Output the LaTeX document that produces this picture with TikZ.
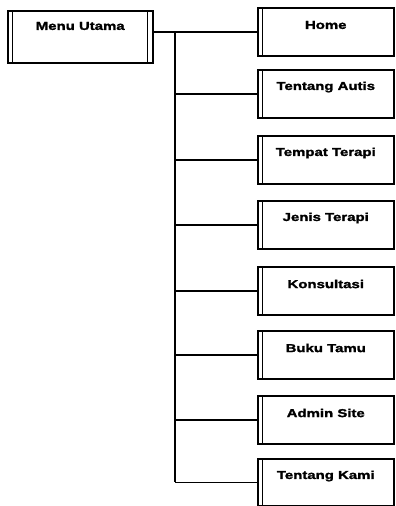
\documentclass[tikz,border=0pt]{standalone}
\usepackage{fontspec}
\setmainfont{Liberation Sans}[FakeStretch=1.3, BoldFeatures={FakeBold=1.8}]
\begin{document}
\begin{tikzpicture}[x=1pt,y=-1pt,
  box/.style={draw, line width=1.5pt, rectangle, minimum width=136pt, minimum height=48pt, inner sep=0pt, anchor=north west,
    path picture={\draw[line width=0.7pt] ([xshift=4.5pt]path picture bounding box.north west) -- ([xshift=4.5pt]path picture bounding box.south west);
      \draw[line width=2pt] (path picture bounding box.south west) -- (path picture bounding box.south east);}},
  mbox/.style={box, minimum width=145pt, minimum height=52pt,
    path picture={\draw[line width=0.7pt] ([xshift=5pt]path picture bounding box.north west) -- ([xshift=5pt]path picture bounding box.south west);
      \draw[line width=0.7pt] ([xshift=-5pt]path picture bounding box.north east) -- ([xshift=-5pt]path picture bounding box.south east);
      \draw[line width=2pt] (path picture bounding box.south west) -- (path picture bounding box.south east);}},
  lbl/.style={label={[anchor=center, yshift=-18pt, font=\fontsize{11.5}{13}\selectfont\bfseries]north:#1}},
  conn/.style={line width=1.5pt}]
\useasboundingbox (0,0) rectangle (396,506);
\node[mbox, label={[anchor=center, yshift=-16pt, font=\fontsize{11.5}{13}\selectfont\bfseries]north:Menu Utama}] (menu) at (7,10) {};
\node[box, lbl=Home] (home) at (257,7) {};
\node[box, lbl=Tentang Autis] (autis) at (257,69) {};
\node[box, lbl=Tempat Terapi] (tempat) at (257,135) {};
\node[box, lbl=Jenis Terapi] (jenis) at (257,200) {};
\node[box, lbl=Konsultasi] (konsul) at (257,266) {};
\node[box, lbl=Buku Tamu] (buku) at (257,330) {};
\node[box, lbl=Admin Site] (admin) at (257,395) {};
\node[box, minimum height=47pt, lbl=Tentang Kami] (kami) at (257,458) {};
\coordinate (trunk) at (175,31);
\draw[conn] (menu.east |- home.west) -- (home.west);
\draw[conn] (trunk) -- (trunk |- kami.west);
\foreach \n in {autis,tempat,jenis,konsul,buku,admin,kami}
  \draw[conn] (trunk |- \n.west) -- (\n.west);
\end{tikzpicture}
\end{document}
